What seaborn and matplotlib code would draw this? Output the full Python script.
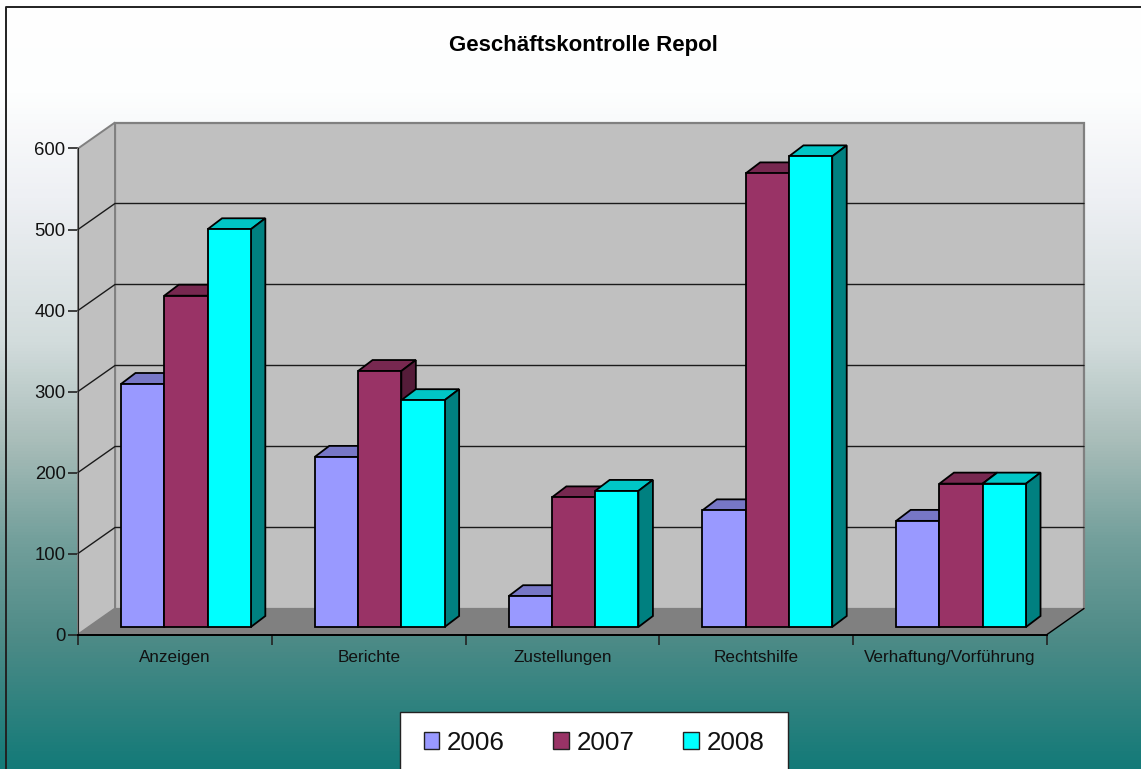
import matplotlib
matplotlib.use("Agg")
import matplotlib.pyplot as plt
import numpy as np
import pandas as pd
import seaborn as sns
from matplotlib.colors import LinearSegmentedColormap
from matplotlib.patches import Patch, Polygon, Rectangle
from matplotlib.transforms import Affine2D, IdentityTransform

title = "Geschäftskontrolle Repol"
categories = ["Anzeigen", "Berichte", "Zustellungen", "Rechtshilfe", "Verhaftung/Vorführung"]
years = ["2006", "2007", "2008"]
values_2006 = [300, 210, 38, 144, 131]
values_2007 = [409, 316, 160, 560, 177]
values_2008 = [491, 280, 168, 581, 177]
colors = ["#9999ff", "#993366", "#00ffff"]
top_colors = ["#7777c6", "#772850", "#00c6c6"]
side_colors = ["#55558e", "#551c39", "#008080"]

W, H = 1141, 769
DEPTH = (37, 26)      # pixels from front plane to back wall
BAR_SHIFT = (11, 7.5)
BAR_DEPTH = (14.5, 11)

sns.set_style("white")
plt.rcParams["font.family"] = ["Liberation Sans", "DejaVu Sans"]

df = pd.DataFrame({
    "Kategorie": categories * 3,
    "Jahr": np.repeat(years, len(categories)),
    "Anzahl": values_2006 + values_2007 + values_2008,
})

fig = plt.figure(figsize=(W / 100, H / 100), dpi=100)

# background gradient
bg = fig.add_axes([0, 0, 1, 1], zorder=0)
cmap = LinearSegmentedColormap.from_list("bg", [
    (0, "#ffffff"), (0.12, "#fdfefe"), (0.255, "#eef0f4"), (0.446, "#d2dcdc"),
    (0.573, "#a9bdb9"), (0.70, "#74a09c"), (0.83, "#4e8b87"), (1, "#137a78")])
bg.imshow(np.linspace(0, 1, 256)[:, None], aspect="auto", cmap=cmap, extent=(0, W, H, 0))
bg.set_xlim(0, W)
bg.set_ylim(H, 0)
bg.axis("off")
bg.plot([5.5, 5.5, W], [H, 7, 7], color="#222222", lw=1.4, clip_on=False)
# legend box runs off the bottom of the picture
bg.add_patch(Rectangle((400, 712), 388, 70, facecolor="white", edgecolor="#222222", linewidth=1))

ax = fig.add_axes([78 / W, 134.5 / H, 969 / W, 486 / H], zorder=1)
ax.patch.set_alpha(0)
sns.barplot(data=df, x="Kategorie", y="Anzahl", hue="Jahr", hue_order=years, palette=colors,
            saturation=1, width=0.67, gap=0, edgecolor="black", linewidth=1.3,
            legend=False, ax=ax)
ax.set_xlim(-0.5, len(categories) - 0.5)
ax.set_ylim(0, 600)
ax.set_xlabel("")
ax.set_ylabel("")
ax.set_yticks(range(0, 601, 100))
ax.tick_params(axis="y", length=7, width=1.2, color="#222222", labelsize=13.3, pad=2, left=True, labelcolor="#111111")
ax.set_xticks(np.arange(len(categories) + 1) - 0.5, minor=True)
ax.tick_params(axis="x", which="major", length=0, labelsize=12.3, pad=11.5, labelcolor="#111111")
ax.tick_params(axis="x", which="minor", length=7, width=1.2, color="#222222", bottom=True)
sns.despine(ax=ax)
ax.spines["left"].set_color("#222222")
ax.spines["bottom"].set_color("black")
ax.spines["bottom"].set_linewidth(1.4)


def to_px(x, y, dx=0, dy=0):
    px = ax.transData.transform((x, y))
    return (px[0] + dx, px[1] + dy)


def add_poly(points, face, edge="none", lw=0, z=1):
    ax.add_patch(Polygon(points, closed=True, facecolor=face, edgecolor=edge, linewidth=lw,
                         transform=IdentityTransform(), zorder=z, clip_on=False))


x0, x1 = ax.get_xlim()
dx, dy = DEPTH
# back wall, side wall, floor
add_poly([to_px(x0, 0, dx, dy), to_px(x1, 0, dx, dy), to_px(x1, 600, dx, dy), to_px(x0, 600, dx, dy)],
         "#c0c0c0", "#808080", 1.6, 0.5)
add_poly([to_px(x0, 0), to_px(x0, 0, dx, dy), to_px(x0, 600, dx, dy), to_px(x0, 600)],
         "#c0c0c0", "#808080", 1.4, 0.6)
add_poly([to_px(x0, 0), to_px(x1, 0), to_px(x1, 0, dx, dy), to_px(x0, 0, dx, dy)],
         "#808080", z=0.7)

# gridlines run over the side wall and the back wall
for v in ax.get_yticks()[1:-1]:
    pts = np.array([to_px(x0, v), to_px(x0, v, dx, dy), to_px(x1, v, dx, dy)])
    ax.plot(pts[:, 0], pts[:, 1], color="#1a1a1a", lw=1, transform=IdentityTransform(),
            zorder=0.8, clip_on=False)
right = np.array([to_px(x1, 0), to_px(x1, 0, dx, dy)])
ax.plot(right[:, 0], right[:, 1], color="black", lw=1, transform=IdentityTransform(), zorder=0.9, clip_on=False)

# fake 3d on the bars
sx, sy = BAR_SHIFT
bx, by = BAR_DEPTH
shift = ax.transData + Affine2D().translate(sx, sy)
bars = list(ax.containers)
for h, container in enumerate(bars):
    for bar in container:
        bar.set_transform(shift)
        bar.set_clip_on(False)
        bar.set_zorder(3 + h + 0.5)
        a, b, v = bar.get_x(), bar.get_x() + bar.get_width(), bar.get_height()
        add_poly([to_px(a, v, sx, sy), to_px(b, v, sx, sy), to_px(b, v, sx + bx, sy + by), to_px(a, v, sx + bx, sy + by)],
                 top_colors[h], "black", 1.3, 3 + h)
        add_poly([to_px(b, 0, sx, sy), to_px(b, 0, sx + bx, sy + by), to_px(b, v, sx + bx, sy + by), to_px(b, v, sx, sy)],
                 side_colors[h], "black", 1.3, 3 + h)

fig.text(583 / W, 1 - 46 / H, title, ha="center", va="center", fontsize=16, fontweight="bold", color="black")

handles = [Patch(facecolor=c, edgecolor="#222222", linewidth=1, label=y) for c, y in zip(colors, years)]
leg = fig.legend(handles=handles, loc="center", bbox_to_anchor=(594 / W, 1 - 742.5 / H), ncols=3, fontsize=18.7,
                 frameon=False, handlelength=0.6, handleheight=0.6, handletextpad=0.3, columnspacing=1.87,
                 borderpad=0.75, borderaxespad=0)
for t in leg.get_texts():
    t.set_color("#111111")

fig.savefig("out.png", dpi=100)
